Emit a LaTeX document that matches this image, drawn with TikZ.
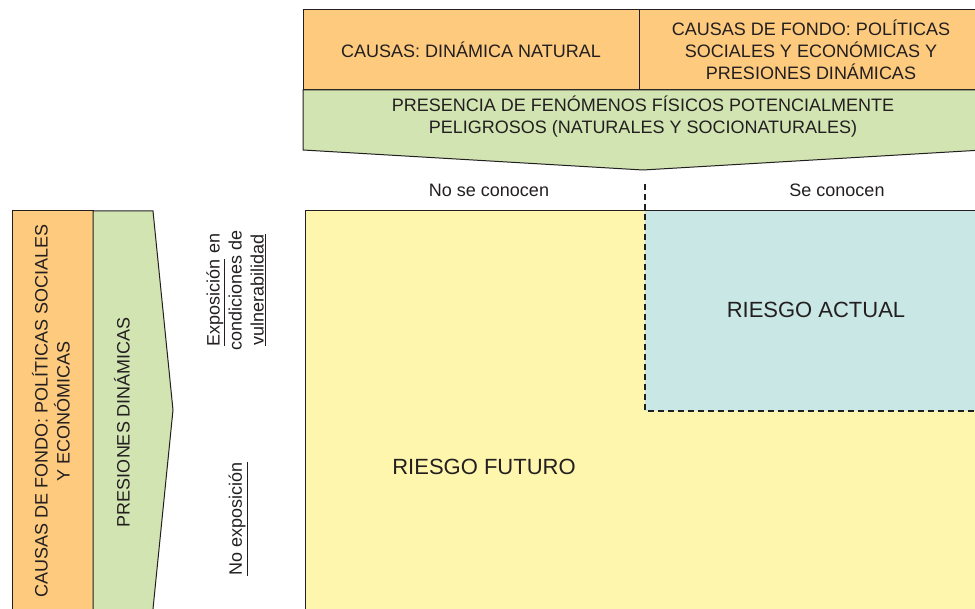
\documentclass[tikz,border=0pt]{standalone}
\usepackage{fontspec}
\setmainfont{Liberation Sans}
\usepackage{tikz}
\definecolor{causeorange}{HTML}{FDCA7E}
\definecolor{pressgreen}{HTML}{D1E4B2}
\definecolor{futureyellow}{HTML}{FFF6AE}
\definecolor{actualblue}{HTML}{C9E7E5}
\definecolor{inkgray}{HTML}{231F20}
\tikzset{
  cause/.style    = {draw=inkgray, line width=1pt, fill=causeorange, rectangle, minimum height = 80pt, align=center},
  band/.style     = {draw=inkgray, line width=1pt, fill=pressgreen},
  zone/.style     = {draw=inkgray, line width=1pt},
  limit/.style    = {draw=inkgray, line width=2.2pt, dash pattern=on 6pt off 4pt},
  txt/.style      = {text=inkgray, align=center, inner sep=0pt, font=\fontsize{18}{22}\selectfont},
  riskname/.style = {text=inkgray, inner sep=0pt, font=\fontsize{22}{26}\selectfont},
  upright/.style  = {txt, rotate=90}
}

\begin{document}
\begin{tikzpicture}[x=1pt, y=-1pt, node distance=340pt, every node/.style={text=inkgray, font=\fontsize{18}{22}\selectfont}]

\useasboundingbox (0,0) rectangle (975,609);
\clip (0,0) rectangle (975,609);

% Top causes
\draw node [cause, minimum width=336pt, name=natcause] at (471,50) {CAUSAS: DINÁMICA NATURAL};
\draw node [cause, minimum width=344pt, right of=natcause] (socause) {CAUSAS DE FONDO: POLÍTICAS\\SOCIALES Y ECONÓMICAS Y\\PRESIONES DINÁMICAS};

% Hazard band
\draw [band] (303,90) -- (983,90) -- (983,150) -- (643,170) -- (303,150) -- cycle;
\draw node [txt, name=hazard] at (643,117) {PRESENCIA DE FENÓMENOS FÍSICOS POTENCIALMENTE\\PELIGROSOS (NATURALES Y SOCIONATURALES)};

% Known / unknown
\draw node [txt, name=unknown] at (489,190) {No se conocen};
\draw node [txt, name=known] at (837,190) {Se conocen};

% Risk zones
\draw [zone, fill=futureyellow] (305,211) rectangle (995,620);
\fill [actualblue] (645,211) rectangle (995,411);
\draw [zone] (305,620) -- (305,211) -- (995,211);
\coordinate (limtop) at (645,184);
\coordinate (limcorner) at (645,411);
\coordinate (limend) at (995,411);
\draw [limit] (limtop) -- (limcorner) -- (limend);
\draw node [riskname, name=actual] at (816,310) {RIESGO ACTUAL};
\draw node [riskname, name=future] at (484,467) {RIESGO FUTURO};

% Left side
\draw [zone, fill=causeorange] (12,211) rectangle (93,620);
\draw [band] (93,620) -- (93,211) -- (153,211) -- (173,410) -- (153,609) -- (152,620);
\draw node [upright, name=rootcause] at (51,411) {CAUSAS DE FONDO: POLÍTICAS SOCIALES\\Y ECONÓMICAS};
\draw node [upright, name=pressure] at (122,422) {PRESIONES DINÁMICAS};

% Exposure
\draw node [upright, name=exposed] at (236,290) {\underline{Exposición} en\\condiciones de\\\underline{vulnerabilidad}};
\draw node [upright, name=unexposed] at (238,519) {\underline{No exposición}};

\end{tikzpicture}
\end{document}
